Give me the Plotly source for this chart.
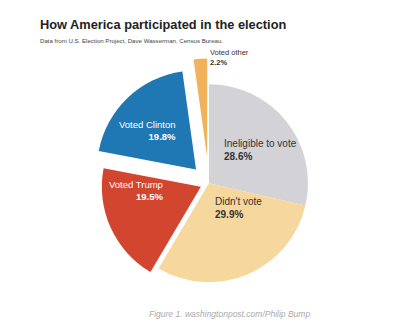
import plotly.graph_objects as go

# Shares of the voting-age picture in 2016, clockwise from 12 o'clock
categories = ["Ineligible to vote", "Didn't vote", "Voted Trump", "Voted Clinton", "Voted other"]
shares = [28.6, 29.9, 19.5, 19.8, 2.2]
colors = ["#d3d2d7", "#f6d79e", "#d2452f", "#1f77b4", "#f0b35c"]
pulls = [0, 0, 0.09, 0.19, 0.26]

# label placement (paper coords, anchor) for each slice
label_pos = [
    (222 / 413, 1 - 150 / 331, "left", "#333333", 10),
    (213 / 413, 1 - 208 / 331, "left", "#333333", 10),
    (165 / 413, 1 - 190 / 331, "right", "#ffffff", 9.5),
    (178 / 413, 1 - 131 / 331, "right", "#ffffff", 9.5),
    (208 / 413, 1 - 58 / 331, "left", "#333333", 7.5),
]

fig = go.Figure(
    go.Pie(
        labels=categories,
        values=shares,
        marker=dict(colors=colors, line=dict(width=0)),
        pull=pulls,
        sort=False,
        direction="clockwise",
        rotation=0,
        textinfo="none",
        hoverinfo="label+percent",
        domain=dict(x=[0.012, 1.0], y=[0.0697, 0.8235]),
        showlegend=False,
    )
)

annotations = []
for name, val, (x, y, al, col, fs) in zip(categories, shares, label_pos):
    annotations.append(
        dict(
            x=x, y=y, xref="paper", yref="paper",
            xanchor=al, yanchor="middle", align=al,
            text=f"{name}<br><b>{val:.1f}%</b>",
            showarrow=False,
            font=dict(family="Liberation Sans, Arial, sans-serif", size=fs, color=col),
        )
    )

annotations += [
    dict(x=38 / 413, y=1 - 24 / 331, xref="paper", yref="paper", xanchor="left", yanchor="middle",
         text="<b>How America participated in the election</b>", showarrow=False,
         font=dict(family="Liberation Sans, Arial, sans-serif", size=12.8, color="#222222")),
    dict(x=38 / 413, y=1 - 40 / 331, xref="paper", yref="paper", xanchor="left", yanchor="middle",
         text="Data from U.S. Election Project, Dave Wasserman, Census Bureau.", showarrow=False,
         font=dict(family="Liberation Sans, Arial, sans-serif", size=6.1, color="#444444")),
    dict(x=147 / 413, y=1 - 314 / 331, xref="paper", yref="paper", xanchor="left", yanchor="middle",
         text="<i>Figure 1. washingtonpost.com/Philip Bump</i>", showarrow=False,
         font=dict(family="Liberation Sans, Arial, sans-serif", size=8.5, color="#aaaaaa")),
]

fig.update_layout(
    width=413, height=331,
    margin=dict(l=0, r=0, t=0, b=0),
    paper_bgcolor="#ffffff",
    plot_bgcolor="#ffffff",
    annotations=annotations,
)

fig.write_html("out.html")
